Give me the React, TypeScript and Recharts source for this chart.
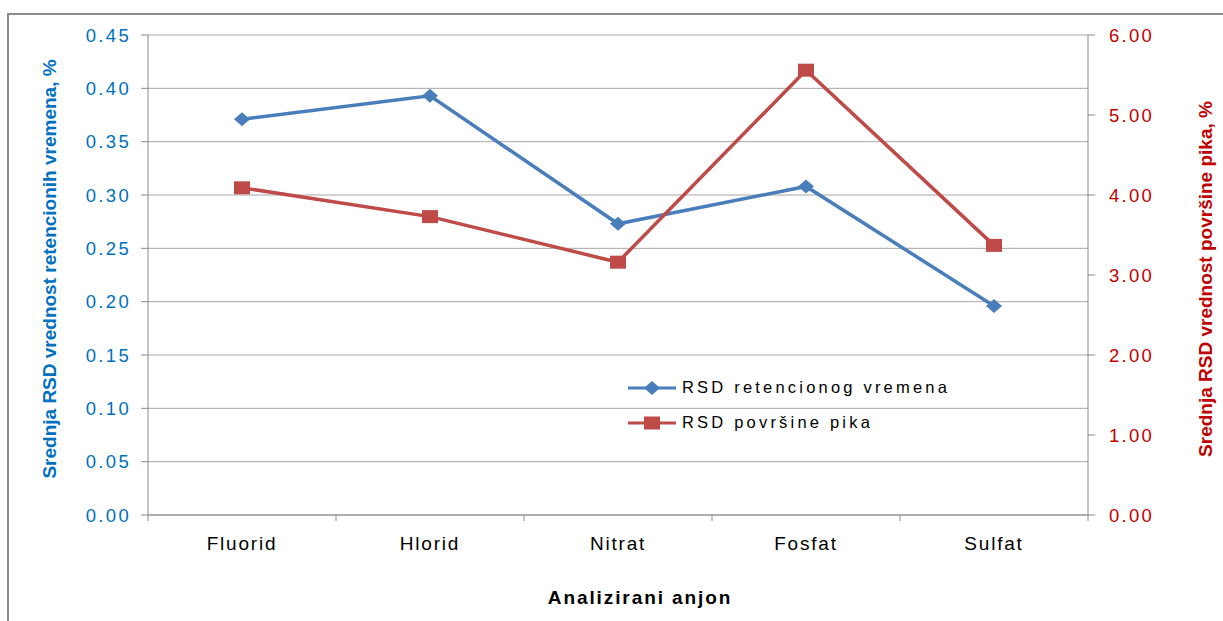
import React from "react";
import {
  LineChart,
  Line,
  XAxis,
  YAxis,
  CartesianGrid,
  Legend,
} from "recharts";

const anions = ["Fluorid", "Hlorid", "Nitrat", "Fosfat", "Sulfat"];
const rsdRetention = [0.371, 0.393, 0.273, 0.308, 0.196];
const rsdPeakArea = [4.09, 3.73, 3.16, 5.56, 3.37];
const leftTicks = [0, 0.05, 0.1, 0.15, 0.2, 0.25, 0.3, 0.35, 0.4, 0.45];
const rightTicks = [0, 1, 2, 3, 4, 5, 6];

const data = anions.map((name, i) => ({
  name,
  retention: rsdRetention[i],
  area: rsdPeakArea[i],
}));

const BLUE = "#4a7ebb";
const RED = "#be4b48";
const AXIS = "#8c8c8c";
const FONT = "'Liberation Sans', Arial, sans-serif";
const X_TICK_MARGIN = 22;

function Diamond(props: any) {
  const { cx, cy, fill } = props;
  if (cx == null || cy == null) return null;
  return (
    <polygon
      points={`${cx},${cy - 7} ${cx + 8},${cy} ${cx},${cy + 7} ${cx - 8},${cy}`}
      fill={fill}
    />
  );
}

function Square(props: any) {
  const { cx, cy, fill } = props;
  if (cx == null || cy == null) return null;
  return <rect x={cx - 8} y={cy - 6.5} width={16} height={13} fill={fill} />;
}

// category label plus tick marks on the band edges (Excel style)
function CategoryTick(props: any) {
  const { x, y, payload, index, visibleTicksCount } = props;
  const half = payload?.offset ?? 0;
  const axisY = y - X_TICK_MARGIN;
  const isLast = index === (visibleTicksCount ?? anions.length) - 1;
  return (
    <g>
      <line x1={x - half} y1={axisY} x2={x - half} y2={axisY + 6} stroke={AXIS} />
      {isLast && (
        <line x1={x + half} y1={axisY} x2={x + half} y2={axisY + 6} stroke={AXIS} />
      )}
      <text
        x={x}
        y={y}
        dy="0.71em"
        textAnchor="middle"
        fill="#000"
        style={{ fontSize: 19, fontFamily: FONT, letterSpacing: 1.8 }}
      >
        {payload.value}
      </text>
    </g>
  );
}

function renderLegend() {
  const items = [
    { label: "RSD retencionog vremena", color: BLUE, shape: "diamond" },
    { label: "RSD površine pika", color: RED, shape: "square" },
  ];
  return (
    <div style={{ fontFamily: FONT }}>
      {items.map((it) => (
        <div
          key={it.label}
          style={{ display: "flex", alignItems: "center", height: 35 }}
        >
          <svg width={48} height={20}>
            <line x1={0} y1={10} x2={48} y2={10} stroke={it.color} strokeWidth={3} />
            {it.shape === "diamond" ? (
              <Diamond cx={24} cy={10} fill={it.color} />
            ) : (
              <Square cx={24} cy={10} fill={it.color} />
            )}
          </svg>
          <span
            style={{
              marginLeft: 6,
              fontSize: 16.5,
              letterSpacing: 3.2,
              color: "#000",
              whiteSpace: "nowrap",
            }}
          >
            {it.label}
          </span>
        </div>
      ))}
    </div>
  );
}

export default function App() {
  return (
    <div
      style={{
        position: "absolute",
        left: 0,
        top: 0,
        width: 1223,
        height: 621,
        background: "#fff",
        overflow: "hidden",
        fontFamily: FONT,
      }}
    >
      <div
        style={{
          position: "absolute",
          left: 7,
          top: 13,
          width: 1300,
          height: 700,
          borderLeft: "2px solid #8c8c8c",
          borderTop: "2px solid #8c8c8c",
        }}
      />
      <div style={{ position: "absolute", left: 0, top: 0 }}>
        <LineChart
          width={1223}
          height={621}
          data={data}
          margin={{ top: 35, right: 0, bottom: 0, left: 0 }}
        >
          <CartesianGrid
            yAxisId="left"
            vertical={false}
            stroke="#a6a6a6"
            strokeWidth={1}
          />
          <XAxis
            dataKey="name"
            scale="band"
            height={106}
            axisLine={{ stroke: AXIS }}
            tickLine={false}
            tickSize={0}
            tickMargin={X_TICK_MARGIN}
            interval={0}
            tick={<CategoryTick />}
          />
          <YAxis
            yAxisId="left"
            orientation="left"
            width={148}
            domain={[0, 0.45]}
            ticks={leftTicks}
            interval={0}
            tickFormatter={(v: number) => v.toFixed(2)}
            tickSize={7}
            tickMargin={10}
            axisLine={{ stroke: AXIS }}
            tickLine={{ stroke: AXIS }}
            tick={{
              fontSize: 18.5,
              fill: "#0070c0",
              fontFamily: FONT,
              letterSpacing: 2.3,
            }}
          />
          <YAxis
            yAxisId="right"
            orientation="right"
            width={135}
            domain={[0, 6]}
            ticks={rightTicks}
            interval={0}
            tickFormatter={(v: number) => v.toFixed(2)}
            tickSize={7}
            tickMargin={14}
            axisLine={{ stroke: AXIS }}
            tickLine={{ stroke: AXIS }}
            tick={{
              fontSize: 18.5,
              fill: "#c00000",
              fontFamily: FONT,
              letterSpacing: 2.3,
            }}
          />
          <Line
            yAxisId="left"
            dataKey="retention"
            name="RSD retencionog vremena"
            stroke={BLUE}
            strokeWidth={3.5}
            fill={BLUE}
            dot={<Diamond fill={BLUE} />}
            activeDot={false}
            isAnimationActive={false}
          />
          <Line
            yAxisId="right"
            dataKey="area"
            name="RSD površine pika"
            stroke={RED}
            strokeWidth={3.5}
            fill={RED}
            dot={<Square fill={RED} />}
            activeDot={false}
            isAnimationActive={false}
          />
          <Legend
            layout="vertical"
            align="center"
            verticalAlign="middle"
            content={renderLegend}
            wrapperStyle={{ left: 628, top: 370, width: 360 }}
          />
        </LineChart>
      </div>
      <div
        style={{
          position: "absolute",
          left: 50,
          top: 269,
          transform: "translate(-50%, -50%) rotate(-90deg)",
          whiteSpace: "nowrap",
          fontSize: 19,
          fontWeight: "bold",
          color: "#0070c0",
        }}
      >
        Srednja RSD vrednost retencionih vremena, %
      </div>
      <div
        style={{
          position: "absolute",
          left: 1206,
          top: 279,
          transform: "translate(-50%, -50%) rotate(-90deg)",
          whiteSpace: "nowrap",
          fontSize: 19,
          fontWeight: "bold",
          color: "#c00000",
        }}
      >
        Srednja RSD vrednost površine pika, %
      </div>
      <div
        style={{
          position: "absolute",
          left: 640,
          top: 598,
          transform: "translate(-50%, -50%)",
          whiteSpace: "nowrap",
          fontSize: 19,
          fontWeight: "bold",
          letterSpacing: 1.9,
          color: "#000",
        }}
      >
        Analizirani anjon
      </div>
    </div>
  );
}
